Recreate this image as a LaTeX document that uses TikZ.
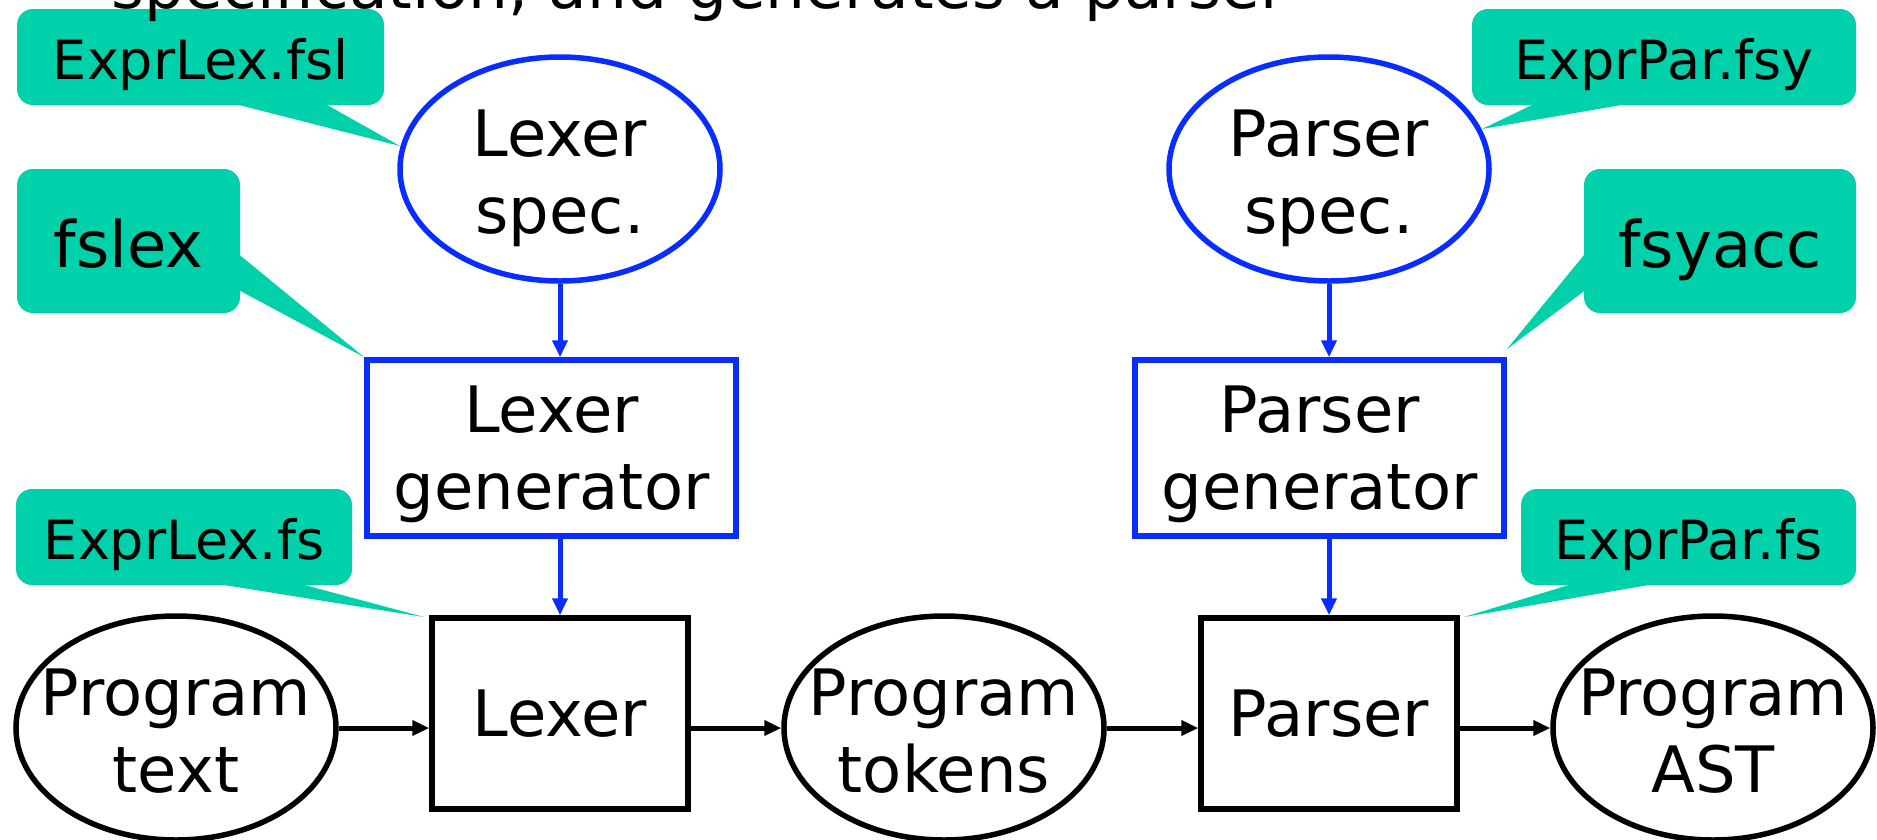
\documentclass[tikz,border=0pt]{standalone}
\usepackage{fontspec}
\setmainfont{DejaVu Sans}
\usetikzlibrary{arrows.meta,shapes.geometric,backgrounds,calc}
\definecolor{fblue}{RGB}{10,45,255}
\definecolor{fteal}{RGB}{0,209,170}
\begin{document}
\begin{tikzpicture}[x=1pt,y=-1pt,
  big/.style={font=\fontsize{64pt}{77pt}\selectfont, align=center},
  small/.style={font=\fontsize{54pt}{65pt}\selectfont},
  oval/.style={ellipse, draw, line width=5.5pt, minimum width=320pt, minimum height=224pt, inner sep=0pt},
  blueoval/.style={oval, draw=fblue},
  ovaltext/.style={label={[big, inner sep=0pt, text depth=0pt, yshift=-3pt]center:#1}},
  box/.style={rectangle, draw, line width=5.5pt, inner sep=0pt, big, text depth=0pt},
  bluebox/.style={box, draw=fblue, minimum width=369pt, minimum height=176pt},
  blackbox/.style={box, minimum width=256pt, minimum height=191pt},
  callout/.style={rectangle, fill=fteal, rounded corners=16pt, inner sep=0pt, text depth=0pt},
  calloutsmall/.style={callout, small, text height=44pt, minimum height=96pt},
  calloutbig/.style={callout, big, text height=53pt, minimum height=144pt},
  arr/.style={line width=5pt, -{Triangle[length=17pt,width=15pt]}},
  bluearr/.style={arr, draw=fblue},
  tail/.style={fill=fteal}
]
\useasboundingbox (0,0) rectangle (1877,839);

\node[font=\fontsize{63pt}{76pt}\selectfont, anchor=base west, inner sep=0pt] (title) at (111,8) {specification, and generates a parser};

% main nodes
\node[blueoval, ovaltext={Lexer\\spec.}] (lspec) at (560,169) {};
\node[blueoval, ovaltext={Parser\\spec.}] (pspec) at (1329,169) {};
\node[bluebox] (lgen) at (551.5,448) {Lexer\\generator};
\node[bluebox] (pgen) at (1319.5,448) {Parser\\generator};
\node[blackbox] (lexer) at (560,713.5) {Lexer};
\node[blackbox] (parser) at (1329,713.5) {Parser};
\node[oval, ovaltext={Program\\text}] (ptext) at (176,728) {};
\node[oval, ovaltext={Program\\tokens}] (ptok) at (944,728) {};
\node[oval, ovaltext={Program\\AST}] (past) at (1713,728) {};

% connectors
\draw[bluearr] (lspec.south) -- (lspec.south |- lgen.north);
\draw[bluearr] (lgen.south -| lexer.north) -- (lexer.north);
\draw[bluearr] (pspec.south) -- (pspec.south |- pgen.north);
\draw[bluearr] (pgen.south -| parser.north) -- (parser.north);
\draw[arr] (ptext.east) -- (ptext.east -| lexer.west);
\draw[arr] (lexer.east |- ptok.west) -- (ptok.west);
\draw[arr] (ptok.east) -- (ptok.east -| parser.west);
\draw[arr] (parser.east |- past.west) -- (past.west);

% callouts
\coordinate (t1) at (400,146);
\coordinate (t3) at (1482,129);
\coordinate (t5) at (424,617);
\coordinate (t6) at (1464,617);
\begin{pgfonlayer}{background}
\node[calloutsmall, minimum width=367pt] (c1) at (200.5,57) {ExprLex.fsl};
\node[calloutbig, minimum width=223pt] (c2) at (128.5,241) {fslex};
\node[calloutsmall, minimum width=384pt] (c3) at (1664,57) {ExprPar.fsy};
\node[calloutbig, minimum width=272pt] (c4) at (1720,241) {fsyacc};
\node[calloutsmall, minimum width=336pt] (c5) at (184,537) {ExprLex.fs};
\node[calloutsmall, minimum width=335pt] (c6) at (1688.5,537) {ExprPar.fs};
\fill[tail] ($(c1.south west)+(215,-2)$) -- (t1) -- ($(c1.south west)+(307,-2)$) -- cycle;
\fill[tail] ($(c2.north east)+(-2,85)$) -- (lgen.north west) -- ($(c2.north east)+(-2,121)$) -- cycle;
\fill[tail] ($(c3.south west)+(64,-2)$) -- (t3) -- ($(c3.south west)+(160,-2)$) -- cycle;
\fill[tail] ($(c4.north west)+(2,84)$) -- ([yshift=8pt]pgen.north east) -- ($(c4.north west)+(2,121)$) -- cycle;
\fill[tail] ($(c5.south west)+(197,-2)$) -- (t5) -- ($(c5.south west)+(282,-2)$) -- cycle;
\fill[tail] ($(c6.south west)+(54,-2)$) -- (t6) -- ($(c6.south west)+(138,-2)$) -- cycle;
\end{pgfonlayer}
\end{tikzpicture}
\end{document}
